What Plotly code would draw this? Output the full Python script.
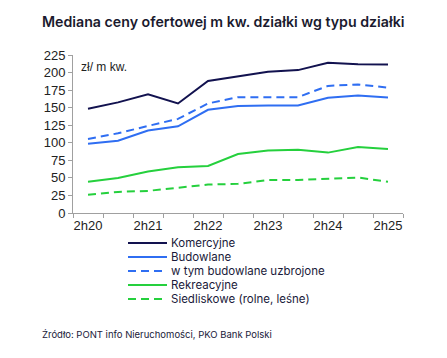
import plotly.graph_objects as go

periods = ["2h20", "1h21", "2h21", "1h22", "2h22", "1h23", "2h23", "1h24", "2h24", "1h25", "2h25"]
komercyjne = [148.5, 157.5, 169, 156, 188, 195, 201, 203.5, 214, 212, 211.5]
budowlane = [98.5, 103, 117.5, 123.5, 147, 152.5, 153, 153, 164, 167.5, 164.5]
uzbrojone = [105.5, 113.5, 124, 134, 156, 165, 165, 165, 181, 183, 178.5]
rekreacyjne = [44.5, 50, 59, 65, 67, 84, 89, 90, 86, 94, 91]
siedliskowe = [26, 30, 31.5, 36, 40.5, 41.5, 47, 47, 49, 50.5, 44.5]

series = [
    ("Komercyjne", komercyjne, "#12124f", "solid"),
    ("Budowlane", budowlane, "#2f6ef2", "solid"),
    ("w tym budowlane uzbrojone", uzbrojone, "#2f6ef2", "8px,5px"),
    ("Rekreacyjne", rekreacyjne, "#25d03d", "solid"),
    ("Siedliskowe (rolne, leśne)", siedliskowe, "#25d03d", "8px,5px"),
]

# plot area in pixels (for placing non-data elements)
L, R, T, B = 73, 403, 55, 213
W, H = R - L, B - T

def px(x):
    return (x - L) / W

def py(y):
    return (B - y) / H

xs = list(range(len(periods)))
fig = go.Figure()
for name, vals, color, dash in series:
    fig.add_trace(go.Scatter(x=xs, y=vals, name=name, mode="lines", showlegend=False,
                             line=dict(color=color, width=2, dash=dash)))

tick_font = dict(family="Liberation Sans, Arial", size=13, color="#222222")
fig.update_layout(
    width=447, height=358,
    margin=dict(l=L, r=447 - R, t=T, b=358 - B, autoexpand=False),
    paper_bgcolor="white", plot_bgcolor="white",
    title=dict(text="Mediana ceny ofertowej m kw. działki wg typu działki",
               xref="container", x=42/447, xanchor="left",
               yref="container", y=1-22/358, yanchor="middle",
               font=dict(family="Inter", size=14.2, color="#1a1a2e", weight=600)),
    showlegend=False,
    xaxis=dict(range=[-0.5, len(periods) - 0.5], tickvals=xs[::2],
               ticktext=periods[::2], ticks="", showgrid=False, zeroline=False,
               showline=True, linecolor="#a0a0a0", linewidth=1,
               tickfont=tick_font,
               minor=dict(tickvals=[i - 0.5 for i in range(len(periods) + 1)],
                          ticks="outside", ticklen=4, tickcolor="#a0a0a0")),
    yaxis=dict(range=[0, 225], dtick=25, ticks="outside", ticklen=4,
               tickcolor="#a0a0a0", showgrid=False, zeroline=False,
               showline=True, linecolor="#a0a0a0", linewidth=1,
               tickfont=tick_font),
)

# manual legend (compact row spacing)
leg_y0, leg_dy = 243, 14
for i, (name, vals, color, dash) in enumerate(series):
    yy = py(leg_y0 + i * leg_dy)
    fig.add_shape(type="line", xref="paper", yref="paper",
                  x0=px(128), x1=px(167), y0=yy, y1=yy,
                  line=dict(color=color, width=2, dash=dash))
    fig.add_annotation(text=name, xref="paper", yref="paper", x=px(169), y=yy,
                       xanchor="left", yanchor="middle", showarrow=False,
                       font=dict(family="Inter", size=11.5, color="#1a1a3a"))

fig.add_annotation(text="zł/ m kw.", xref="paper", yref="paper",
                   x=px(79), y=py(67), xanchor="left", yanchor="middle",
                   showarrow=False, font=dict(family="Liberation Sans, Arial", size=12, color="#222222"))
fig.add_annotation(text="Źródło: PONT info Nieruchomości, PKO Bank Polski", xref="paper", yref="paper",
                   x=px(40), y=py(334), xanchor="left", yanchor="middle",
                   showarrow=False, font=dict(family="Inter", size=9.5, color="#1a1a3a"))
fig.write_html("out.html", post_script="document.body.style.margin='0';",
               config={"displayModeBar": False})
